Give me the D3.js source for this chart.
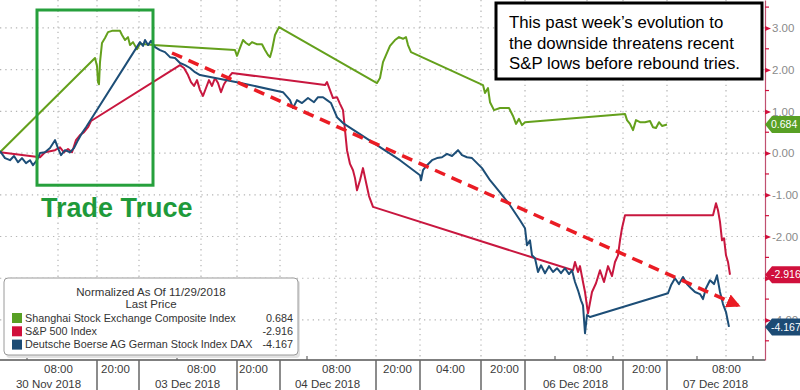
<!DOCTYPE html>
<meta charset="utf-8">
<title>Shanghai, S&amp;P 500 and DAX normalized</title>
<style>
    body { margin: 0; background: #fff; }
    svg text { font-family: "Liberation Sans", Arial, sans-serif; }
</style>
<script src="https://d3js.org/d3.v7.min.js"></script>

<svg id="chart" width="800" height="390"></svg>

<script>
    // x = compressed trading-session time (units along the Bloomberg axis), y = % change since 11/29/2018
    const shanghai = [[0,0.02],[19,2.28],[19.4,2.09],[19.6,1.70],[19.8,1.65],[20,2.18],[20.4,2.64],[21,2.76],
        [21.6,2.90],[22.4,2.93],[24,2.93],[24.4,2.83],[25,2.71],[25.6,2.78],[26,2.59],[26.6,2.66],[27.4,2.49],
        [28,2.62],[30.6,2.59],[47,2.47],[47.4,2.33],[48,2.52],[48.6,2.71],[49.2,2.64],[49.8,2.59],[50.4,2.66],
        [51.4,2.61],[52.4,2.61],[53,2.47],[53.6,2.35],[54,2.30],[54.4,2.47],[55,2.83],[55.8,3.02],[75.4,1.68],
        [76,1.80],[76.6,2.18],[77.2,2.35],[78,2.57],[79,2.71],[79.8,2.78],[80.6,2.74],[81.2,2.78],[81.6,2.59],
        [82.2,2.42],[96.6,1.63],[97,1.44],[97.6,1.56],[98,1.22],[98.8,1.03],[100,1.08],[101.8,1.08],[102.6,0.89],
        [103.2,0.70],[103.8,0.82],[104.4,0.67],[105,0.74],[125,0.94],[125.4,0.79],[126,0.70],[126.6,0.55],
        [127.2,0.79],[128,0.74],[129,0.74],[130,0.77],[130.6,0.62],[131.2,0.60],[131.8,0.74],[132.4,0.65],[133.4,0.684]];

    const sp500 = [[0,0.02],[8,-0.10],[9,0.02],[11,0.07],[12,0.14],[12.8,0.02],[13.6,0.10],[14.4,0.02],[15.2,0.31],
        [16,0.43],[16.8,0.50],[17.6,0.62],[18.2,0.77],[36,2.11],[36.8,2.04],[37.6,1.87],[38.2,1.70],[38.8,1.61],
        [39.4,1.75],[40,1.51],[40.6,1.37],[41.2,1.56],[41.8,1.75],[42.4,1.61],[43,1.80],[43.6,1.68],[44.2,1.46],
        [44.8,1.65],[45.6,1.80],[46.4,1.92],[65,1.63],[65.4,1.70],[66,1.51],[66.6,1.32],[67.4,1.34],[68,1.18],
        [68.6,1.03],[69,0.55],[69.4,0.07],[70,-0.26],[70.6,-0.41],[71,-0.60],[71.4,-0.89],[72,-0.65],[72.6,-0.36],
        [73.2,-0.70],[73.8,-1.03],[74.6,-1.29],[114.6,-2.81],[115,-2.61],[115.6,-2.85],[116,-2.71],[116.6,-3.09],
        [117,-3.33],[117.6,-3.84],[118.4,-3.33],[119.2,-3.12],[120,-2.81],[120.8,-3.09],[121.6,-2.71],[122.4,-2.95],
        [123,-2.61],[123.6,-2.45],[124,-2.09],[124.4,-1.80],[125,-1.49],[142.6,-1.49],[143.2,-1.20],[143.6,-1.37],
        [144,-1.65],[144.4,-2.09],[144.8,-2.04],[145.2,-2.45],[145.6,-2.61],[146,-2.916]];

    const dax = [[0,0.05],[1,-0.12],[2,-0.17],[2.8,-0.07],[3.6,-0.22],[4.4,-0.12],[5.2,-0.24],[6,-0.17],[6.6,-0.29],
        [7.4,-0.17],[8,0],[9,0.02],[10,0.12],[11,0.31],[11.6,0.12],[12.2,-0.05],[13,0.07],[14,0.02],[14.8,0.12],
        [15.6,0.31],[16.4,0.48],[17.2,0.62],[28,2.66],[28.6,2.57],[29,2.71],[29.6,2.59],[30.2,2.69],[31,2.54],
        [32,2.47],[33,2.42],[34,2.30],[35,2.28],[36,2.16],[37,2.11],[38,2.04],[39,1.94],[40,1.87],[47.4,1.70],
        [56.6,1.46],[58,1.27],[58.6,1.08],[59.4,1.27],[60.4,1.20],[61.6,1.32],[62.8,1.22],[63.6,1.34],[64.6,1.34],
        [65.4,1.27],[66.2,1.20],[66.8,1.03],[67.4,0.86],[68.6,0.72],[80,-0.17],[84,-0.53],[84.2,-0.65],[84.6,-0.41],
        [85.4,-0.29],[86.4,-0.17],[87.4,-0.12],[88.4,-0.10],[89.4,-0.02],[90.4,-0.07],[91.6,0.07],[92.4,-0.05],
        [93.4,-0.10],[94.4,-0.12],[95.4,-0.24],[96.4,-0.36],[98,-0.65],[100,-0.94],[102,-1.25],[104,-1.61],
        [105,-1.80],[105.4,-2.21],[106,-2.09],[106.4,-2.45],[107,-2.52],[107.6,-2.85],[108.2,-2.69],[109,-2.88],
        [109.8,-2.71],[110.6,-2.85],[111.4,-2.76],[112.2,-2.88],[113,-2.76],[113.8,-2.90],[114.4,-2.81],[115,-3.09],
        [115.6,-3.29],[116.2,-3.53],[116.6,-3.65],[117,-4.32],[117.4,-3.88],[118,-3.93],[133.6,-3.36],[134.2,-3.17],
        [135,-3.00],[135.8,-3.14],[136.6,-2.97],[137.4,-3.14],[138.2,-3.24],[139,-3.33],[140,-3.38],[140.6,-3.50],
        [141.2,-3.24],[142,-3.05],[142.8,-3.14],[143.4,-2.93],[144,-3.33],[144.6,-3.62],[145.2,-3.81],[145.8,-4.167]];

    const seriesNames = ["Shanghai Stock Exchange Composite Index", "S&P 500 Index", "Deutsche Boerse AG German Stock Index DAX"];
    const lastValues = [0.684, -2.916, -4.167];

    const yTicks = [3, 2, 1, 0, -1, -2, -3, -4];
    const yMinorTicks = [3.5, 2.5, 1.5, 0.5, -0.5, -1.5, -2.5, -3.5, -4.5];

    const timeTicks = [11.6, 23, 40.2, 50.6, 67.2, 79.4, 90, 100.8, 117.4, 129.2, 145.2];
    const timeLabels = ["08:00", "20:00", "08:00", "20:00", "08:00", "20:00", "04:00", "20:00", "08:00", "20:00", "08:00"];
    const dateTicks = [9.6, 37.4, 65.4, 115, 143];
    const dateLabels = ["30 Nov 2018", "03 Dec 2018", "04 Dec 2018", "06 Dec 2018", "07 Dec 2018"];
    const sessionBreaks = [19.4, 27.8, 47.4, 56, 75.2, 84, 96.2, 105, 124.6, 133.4];
    const minorXTicks = [5.4, 35.4, 61.4, 111, 122.6, 139.4, 150.6];

    const trendLine = [[34.4, 2.40], [147.6, -3.65]];

    const svg = d3.select("#chart");
    const plotRight = 765, plotBottom = 360;
    const colors = ["#64a01c", "#c8173f", "#1d4e77"];
    const tagColors = ["#58a024", "#d0103c", "#1c4b74"];

    const x = d3.scaleLinear().domain([0, 153]).range([0, plotRight]);
    const y = d3.scaleLinear().domain([-4.96, 3.67]).range([plotBottom, 0]);

    // dotted grid
    const grid = svg.append("g").attr("stroke", "#b5b5b5").attr("stroke-width", 1.2).attr("stroke-dasharray", "1.3,4");
    grid.selectAll(".hg").data(yTicks).enter().append("line")
        .attr("x1", 0).attr("x2", plotRight)
        .attr("y1", d => y(d)).attr("y2", d => y(d));
    const vGrid = sessionBreaks.concat(timeTicks.filter((d, i) => timeLabels[i] === "08:00"));
    grid.selectAll(".vg").data(vGrid).enter().append("line")
        .attr("x1", d => x(d)).attr("x2", d => x(d))
        .attr("y1", 0).attr("y2", plotBottom);

    // bottom axis
    const xAxis = svg.append("g").attr("transform", `translate(0,${plotBottom})`)
        .call(d3.axisBottom(x).tickValues(timeTicks).tickFormat((d, i) => timeLabels[i]).tickSize(0).tickPadding(5));
    xAxis.select(".domain").attr("stroke", "#555").attr("stroke-width", 1.5).attr("d", `M0,0H${plotRight}`);
    xAxis.selectAll("text").attr("font-family", null).style("font-size", "11.5px").attr("fill", "#3a3a3a");

    const dAxis = svg.append("g").attr("transform", `translate(0,${plotBottom + 15})`)
        .call(d3.axisBottom(x).tickValues(dateTicks).tickFormat((d, i) => dateLabels[i]).tickSize(0).tickPadding(5));
    dAxis.select(".domain").remove();
    dAxis.selectAll("text").attr("font-family", null).style("font-size", "11.5px").attr("fill", "#3a3a3a");

    svg.append("g").selectAll("line").data(sessionBreaks).enter().append("line")
        .attr("x1", d => x(d)).attr("x2", d => x(d))
        .attr("y1", plotBottom).attr("y2", 390)
        .attr("stroke", "#666").attr("stroke-width", 1.5);
    svg.append("g").selectAll("line").data(minorXTicks).enter().append("line")
        .attr("x1", d => x(d)).attr("x2", d => x(d))
        .attr("y1", plotBottom - 4).attr("y2", plotBottom)
        .attr("stroke", "#666").attr("stroke-width", 1.2);

    // right axis
    const yAxis = svg.append("g").attr("transform", `translate(${plotRight},0)`)
        .call(d3.axisRight(y).tickValues(yTicks).tickFormat(d => d.toFixed(2)).tickSize(0).tickPadding(7).tickSizeOuter(0));
    yAxis.select(".domain").attr("stroke", "#c05070").attr("stroke-width", 1.2);
    yAxis.selectAll("text").attr("font-family", null).style("font-size", "11.5px").attr("fill", "#8a8a8a");
    yAxis.selectAll(".tick").append("path").attr("d", "M0,-2.5L6,0L0,2.5Z").attr("fill", "#d0103c");
    yAxis.selectAll(".minor").data(yMinorTicks).enter().append("line")
        .attr("x1", 0).attr("x2", 4).attr("y1", d => y(d)).attr("y2", d => y(d))
        .attr("stroke", "#d0103c").attr("stroke-width", 1.2);

    // series
    const line = d3.line().x(d => x(d[0])).y(d => y(d[1]));
    [shanghai, sp500, dax].forEach((s, i) => {
        svg.append("path").datum(s)
            .attr("d", line)
            .attr("fill", "none")
            .attr("stroke", colors[i])
            .attr("stroke-width", 2)
            .attr("stroke-linejoin", "round");
    });

    // trend arrow
    svg.append("defs").append("marker")
        .attr("id", "arrow").attr("viewBox", "0 0 10 10")
        .attr("refX", 8).attr("refY", 5)
        .attr("markerWidth", 4).attr("markerHeight", 4)
        .attr("orient", "auto")
        .append("path").attr("d", "M0,0L10,5L0,10Z").attr("fill", "#ea1c24");
    svg.append("path").datum(trendLine)
        .attr("d", line)
        .attr("stroke", "#ea1c24").attr("stroke-width", 3.5)
        .attr("stroke-dasharray", "11,7")
        .attr("fill", "none")
        .attr("marker-end", "url(#arrow)");

    // last value tags (cut off by the right edge, as in the original)
    const tags = svg.append("g").selectAll("g").data(lastValues).enter().append("g")
        .attr("transform", d => `translate(${plotRight},${y(d)})`);
    tags.append("path").attr("d", "M0,0L7,-8.5H40V8.5H7Z").attr("fill", (d, i) => tagColors[i]);
    tags.append("text").attr("x", 6).attr("dy", "0.35em")
        .style("font-size", "10.5px").attr("fill", "#fff").text(d => d.toFixed(3));

    // trade truce box
    svg.append("rect")
        .attr("x", x(7.4)).attr("y", y(3.43))
        .attr("width", x(30.6) - x(7.4)).attr("height", y(-0.77) - y(3.43))
        .attr("fill", "none").attr("stroke", "#26a03c").attr("stroke-width", 3);
    svg.append("text")
        .attr("x", 41).attr("y", 217)
        .style("font-size", "27px").style("font-weight", "bold")
        .attr("fill", "#1e9a3a")
        .text("Trade Truce");

    // comment box
    svg.append("rect")
        .attr("x", 496).attr("y", 3).attr("width", 266).attr("height", 76)
        .attr("fill", "#fff").attr("stroke", "#000").attr("stroke-width", 3);
    const note = ["This past week\u2019s evolution to", "the downside threatens recent", "S&P lows before rebound tries."];
    svg.append("g").selectAll("text").data(note).enter().append("text")
        .attr("x", 509).attr("y", (d, i) => 28 + i * 20.5)
        .style("font-size", "16.8px").attr("fill", "#000")
        .text(d => d);

    // legend
    const legend = svg.append("g");
    legend.append("rect").attr("x", 6).attr("y", 280).attr("width", 294).attr("height", 78)
        .attr("rx", 4).attr("fill", "#e2e2e2");
    legend.append("rect").attr("x", 4).attr("y", 278).attr("width", 294).attr("height", 77)
        .attr("rx", 4).attr("fill", "#fff").attr("stroke", "#9a9a9a");
    legend.append("text").attr("x", 151).attr("y", 296).attr("text-anchor", "middle")
        .style("font-size", "11.5px").attr("fill", "#333").text("Normalized As Of 11/29/2018");
    legend.append("text").attr("x", 151).attr("y", 308).attr("text-anchor", "middle")
        .style("font-size", "11.5px").attr("fill", "#333").text("Last Price");
    const rows = legend.selectAll(".row").data(seriesNames).enter().append("g")
        .attr("transform", (d, i) => `translate(0,${318 + i * 13.3})`);
    rows.append("rect").attr("x", 12).attr("y", -5).attr("width", 10).attr("height", 10)
        .attr("fill", (d, i) => tagColors[i]);
    rows.append("text").attr("x", 25).attr("dy", "0.35em")
        .style("font-size", "10.8px").attr("fill", "#333").text(d => d);
    rows.append("text").attr("x", 293).attr("dy", "0.35em").attr("text-anchor", "end")
        .style("font-size", "10.8px").attr("fill", "#333").text((d, i) => lastValues[i].toFixed(3));
</script>
